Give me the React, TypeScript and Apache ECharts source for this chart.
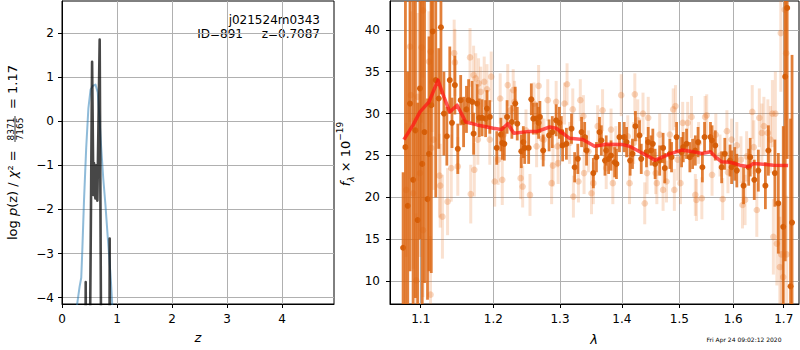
import React, { useEffect, useRef } from "react";
import * as echarts from "echarts";

// ---------- left panel: log p(z) ----------
const zTicks = [0, 1, 2, 3, 4];
const logpTicks = [-4, -3, -2, -1, 0, 1, 2];
const zRange = [0, 4.945];
const logpRange = [-4.145, 2.727];

const pzBlueZ = [0.2, 0.27, 0.32, 0.35, 0.37, 0.40, 0.44, 0.48, 0.52, 0.56, 0.61, 0.65, 0.68, 0.71, 0.75, 0.79, 0.83, 0.86, 0.89, 0.92, 0.97];
const pzBlueV = [-7, -4.2, -3.75, -3.55, -2.9, -1.8, -0.6, 0.3, 0.72, 0.8, 0.83, 0.65, 0.1, -0.55, -1.3, -1.9, -2.6, -3.1, -3.65, -4.3, -6];

const pzDarkZ = [0.42, 0.431, 0.442, 0.49, 0.547, 0.571, 0.582, 0.595, 0.607, 0.62, 0.631, 0.643, 0.685, 0.722, 0.86, 0.867, 0.874];
const pzDarkV = [-8, -3.65, -8, -8, 1.35, -1.67, -0.95, -1.6, -1.75, -1.0, -1.1, -1.8, 1.85, -8, -8, -2.66, -8];

// ---------- right panel: spectrum ----------
const waveTicks = [1.1, 1.2, 1.3, 1.4, 1.5, 1.6, 1.7];
const fluxTicks = [10, 15, 20, 25, 30, 35, 40];
const waveRange = [1.0602, 1.7314];
const fluxRange = [7.29, 43.43];

const modelWave = [1.078, 1.090, 1.099, 1.111, 1.123, 1.131, 1.139, 1.149, 1.161, 1.177, 1.200, 1.212, 1.221, 1.230, 1.250, 1.264, 1.284, 1.294, 1.315, 1.336, 1.355, 1.374, 1.401, 1.413, 1.436, 1.457, 1.471, 1.483, 1.504, 1.525, 1.541, 1.557, 1.566, 1.578, 1.594, 1.613, 1.630, 1.639, 1.659, 1.679, 1.709];
const modelFlux = [26.9, 28.65, 30.2, 31.4, 34.0, 32.0, 30.2, 31.0, 29.0, 28.65, 28.25, 28.1, 28.8, 27.65, 27.85, 27.85, 28.4, 28.25, 27.05, 26.9, 26.1, 26.35, 26.3, 26.1, 25.25, 24.45, 24.85, 25.2, 25.65, 25.45, 25.25, 25.45, 24.85, 24.25, 24.2, 23.85, 23.65, 24.05, 23.95, 23.85, 23.8];

// [wavelength, flux, error]
const darkPoints: [number, number, number][] = [
  [1.077, 14.0, 9], [1.080, 26.0, 22], [1.083, 19.0, 16], [1.086, 31.2, 20], [1.090, 22.1, 24],
  [1.093, 28.0, 20], [1.096, 17.3, 14], [1.099, 33.0, 18], [1.102, 24.0, 22], [1.105, 27.8, 18],
  [1.109, 19.8, 12], [1.111, 25.2, 14], [1.114, 31.0, 20], [1.116, 39.8, 9], [1.120, 34.0, 14],
  [1.124, 31.8, 6], [1.127, 40.3, 8], [1.131, 30.0, 5], [1.135, 27.3, 3.5], [1.139, 34.0, 4],
  [1.142, 28.9, 3], [1.146, 33.4, 3.5], [1.150, 25.8, 3], [1.154, 31.6, 3], [1.158, 29.0, 3],
  [1.162, 30.5, 2.8], [1.165, 31.6, 2.5], [1.170, 31.4, 2.5], [1.172, 27.6, 2.5], [1.177, 31.2, 2.3],
  [1.180, 29.5, 2.3], [1.184, 29.5, 2.2], [1.189, 29.4, 2.2], [1.191, 30.6, 2.2], [1.195, 29.6, 2.0],
  [1.205, 25.9, 2.0], [1.211, 27.5, 2.0], [1.213, 26.5, 2.0], [1.216, 26.4, 2.0], [1.220, 29.6, 2.0],
  [1.227, 29.0, 2.0], [1.232, 31.2, 2.0], [1.235, 28.8, 2.0], [1.241, 25.5, 2.0], [1.244, 26.6, 1.9],
  [1.246, 25.9, 1.9], [1.252, 25.9, 1.9], [1.256, 31.7, 1.9], [1.259, 29.4, 1.9], [1.264, 29.4, 1.9],
  [1.267, 28.9, 1.9], [1.269, 29.6, 1.9], [1.274, 25.6, 1.9], [1.283, 27.4, 1.9], [1.288, 27.8, 1.9],
  [1.294, 29.2, 1.9], [1.299, 28.9, 1.9], [1.302, 27.8, 1.9], [1.304, 26.2, 1.9], [1.310, 26.4, 1.9],
  [1.318, 28.2, 1.8], [1.323, 23.6, 1.8], [1.328, 24.6, 1.8], [1.334, 27.8, 1.8], [1.339, 27.2, 1.8],
  [1.342, 25.6, 1.8], [1.353, 22.9, 1.8], [1.358, 24.8, 1.8], [1.363, 27.8, 1.8], [1.366, 26.8, 1.8],
  [1.372, 24.4, 1.8], [1.374, 25.6, 1.8], [1.378, 24.6, 1.8], [1.382, 25.0, 1.8], [1.388, 24.2, 1.8],
  [1.391, 24.0, 1.8], [1.396, 27.2, 1.8], [1.404, 27.2, 1.8], [1.408, 26.6, 1.8], [1.414, 24.4, 1.8],
  [1.418, 25.2, 1.8], [1.423, 28.5, 1.8], [1.430, 27.4, 1.8], [1.433, 24.6, 1.8], [1.442, 25.4, 1.8],
  [1.445, 26.6, 1.8], [1.450, 25.6, 1.8], [1.453, 26.4, 1.8], [1.457, 24.0, 1.8], [1.465, 24.4, 1.8],
  [1.471, 25.9, 1.8], [1.474, 23.5, 1.8], [1.483, 25.2, 1.8], [1.486, 24.8, 1.8], [1.495, 27.2, 1.8],
  [1.504, 25.4, 1.8], [1.507, 26.0, 1.8], [1.513, 26.4, 1.8], [1.519, 24.8, 1.8], [1.524, 25.2, 1.8],
  [1.529, 25.6, 1.8], [1.534, 26.6, 1.8], [1.542, 23.6, 1.8], [1.546, 27.2, 1.8], [1.557, 27.2, 1.8],
  [1.560, 26.8, 1.8], [1.566, 26.2, 1.8], [1.578, 23.6, 1.9], [1.584, 25.2, 1.9], [1.594, 24.4, 1.9],
  [1.597, 23.6, 2.0], [1.603, 24.0, 2.0], [1.607, 23.2, 2.0], [1.620, 21.4, 2.2], [1.630, 23.6, 2.2],
  [1.633, 24.8, 2.3], [1.641, 22.1, 2.4], [1.649, 23.2, 2.5], [1.663, 21.4, 2.8], [1.669, 25.6, 3.0],
  [1.682, 22.9, 4.0], [1.689, 19.3, 6], [1.699, 16.5, 12], [1.703, 34.4, 22], [1.707, 42.6, 18],
  [1.714, 9.4, 20], [1.717, 17.0, 20],
];

const lightPoints: [number, number, number][] = [
  [1.081, 20.9, 8], [1.086, 38.0, 9], [1.087, 32.2, 10], [1.090, 20.5, 9], [1.094, 10.1, 8],
  [1.096, 32.0, 10], [1.099, 22.9, 10], [1.101, 37.9, 9], [1.103, 42.3, 8], [1.103, 16.1, 8],
  [1.111, 36.2, 6], [1.113, 37.4, 6], [1.113, 8.4, 7], [1.114, 25.9, 6], [1.115, 33.8, 6],
  [1.117, 26.9, 6], [1.125, 22.6, 5], [1.126, 21.4, 5], [1.129, 17.7, 5], [1.136, 19.5, 4],
  [1.141, 23.5, 4], [1.145, 37.2, 4], [1.146, 36.1, 4], [1.150, 23.7, 3.5], [1.167, 36.7, 3.5],
  [1.168, 20.4, 3.5], [1.172, 34.6, 3.5], [1.173, 23.3, 3.2], [1.175, 34.2, 3], [1.179, 33.6, 3],
  [1.178, 26.9, 3], [1.182, 32.6, 3], [1.187, 33.8, 3], [1.191, 32.9, 3], [1.195, 26.9, 3],
  [1.197, 34.4, 3], [1.202, 21.9, 3], [1.207, 24.5, 3], [1.210, 31.8, 3], [1.213, 22.1, 3],
  [1.215, 27.5, 2.5], [1.221, 33.4, 2.5], [1.225, 30.4, 2.5], [1.229, 32.8, 2.5], [1.231, 31.4, 2.5],
  [1.240, 22.3, 2.5], [1.243, 21.3, 2.5], [1.248, 28.0, 2.5], [1.254, 20.3, 2.5], [1.260, 31.2, 2.5],
  [1.264, 26.1, 2.5], [1.267, 33.3, 2.5], [1.272, 27.0, 2.5], [1.275, 26.9, 2.5], [1.281, 31.6, 2.5],
  [1.287, 21.7, 2.5], [1.289, 23.8, 2.5], [1.294, 31.4, 2.5], [1.296, 26.1, 2.5], [1.297, 24.1, 2.5],
  [1.307, 31.2, 2.5], [1.311, 33.5, 2.5], [1.315, 26.5, 2.5], [1.320, 30.5, 2.5], [1.321, 20.1, 2.5],
  [1.329, 21.9, 2.5], [1.332, 31.6, 2.5], [1.337, 29.7, 2.5], [1.338, 22.9, 2.5], [1.345, 25.5, 2.5],
  [1.350, 20.5, 2.5], [1.353, 21.7, 2.5], [1.360, 28.5, 2.5], [1.368, 30.4, 2.5], [1.374, 23.5, 2.5],
  [1.382, 28.1, 2.5], [1.385, 21.7, 2.5], [1.390, 26.0, 2.5], [1.399, 32.2, 2.5], [1.410, 27.3, 2.5],
  [1.413, 21.7, 2.5], [1.420, 26.5, 2.5], [1.422, 32.3, 2.5], [1.427, 29.2, 2.5], [1.436, 30.0, 2.5],
  [1.439, 19.3, 2.5], [1.443, 22.9, 2.5], [1.445, 29.5, 2.5], [1.458, 22.9, 2.5], [1.460, 21.7, 2.5],
  [1.465, 27.5, 2.5], [1.471, 20.9, 2.5], [1.477, 21.9, 2.5], [1.483, 27.5, 2.5], [1.489, 30.5, 2.5],
  [1.491, 20.9, 2.5], [1.493, 30.9, 2.5], [1.497, 24.5, 2.5], [1.502, 21.7, 2.5], [1.506, 28.9, 2.5],
  [1.515, 28.9, 2.5], [1.522, 29.6, 2.5], [1.529, 20.3, 2.5], [1.531, 19.7, 2.5], [1.535, 26.5, 2.5],
  [1.541, 19.9, 2.5], [1.547, 29.6, 2.5], [1.550, 29.8, 2.5], [1.560, 22.7, 2.5], [1.567, 27.5, 2.5],
  [1.575, 25.0, 2.5], [1.580, 19.8, 2.5], [1.588, 27.9, 2.5], [1.590, 23.0, 2.5], [1.597, 26.9, 2.5],
  [1.607, 26.2, 2.8], [1.615, 24.5, 2.8], [1.618, 19.1, 2.8], [1.623, 19.7, 3], [1.626, 24.9, 3],
  [1.637, 30.2, 3.2], [1.640, 26.0, 3.2], [1.646, 18.5, 3.2], [1.651, 29.5, 3.5], [1.656, 27.7, 3.5],
  [1.660, 28.5, 3.5], [1.668, 27.7, 4], [1.673, 26.9, 4], [1.677, 30.0, 4], [1.679, 15.3, 4.5],
  [1.683, 30.0, 5], [1.686, 14.5, 5], [1.692, 11.7, 6], [1.694, 39.6, 7], [1.695, 13.2, 6],
  [1.699, 10.5, 6], [1.702, 42.4, 8], [1.705, 37.2, 8], [1.706, 13.2, 7],
];

const FONT = "DejaVu Sans";
const minus = (v: number) => (v < 0 ? "\u2212" + Math.abs(v) : String(v));

function errRender(barColor: string, dotColor: string, r: number, w: number) {
  return (params: any, api: any) => {
    const x = api.value(0);
    const y = api.value(1);
    const e = api.value(2);
    const lo = Math.max(y - e, fluxRange[0]);
    const hi = Math.min(y + e, fluxRange[1]);
    const children: any[] = [];
    if (hi > lo) {
      const p0 = api.coord([x, lo]);
      const p1 = api.coord([x, hi]);
      children.push({
        type: "line",
        shape: { x1: p0[0], y1: p0[1], x2: p1[0], y2: p1[1] },
        style: { stroke: barColor, lineWidth: w },
      });
    }
    if (y >= fluxRange[0] && y <= fluxRange[1]) {
      const c = api.coord([x, y]);
      children.push({ type: "circle", shape: { cx: c[0], cy: c[1], r }, style: { fill: dotColor } });
    }
    return { type: "group", children };
  };
}

function axisCommon(custom: number[], fmt: (v: number) => string, margin: number) {
  return {
    axisLine: { show: true, onZero: false, lineStyle: { color: "#000", width: 1 } },
    axisTick: { show: true, length: 4, lineStyle: { color: "#000", width: 1 }, customValues: custom },
    axisLabel: { customValues: custom, formatter: fmt, color: "#000", fontSize: 12, fontFamily: FONT, margin },
    splitLine: { show: true, lineStyle: { color: "#b0b0b0", width: 1 } },
  };
}

export default function App() {
  const ref = useRef<HTMLDivElement>(null);
  useEffect(() => {
    if (!ref.current) return;
    const chart = echarts.init(ref.current, null, { renderer: "svg" });
    const ln = Math.log;
    const option: any = {
      animation: false,
      backgroundColor: "#fff",
      grid: [
        { left: 62, top: 1, width: 272, height: 303, show: true, borderColor: "#000", borderWidth: 1 },
        { left: 390, top: 1, width: 409, height: 303, show: true, borderColor: "#000", borderWidth: 1 },
      ],
      xAxis: [
        { type: "value", gridIndex: 0, min: zRange[0], max: zRange[1], ...axisCommon(zTicks, minus, 9) },
        {
          type: "value", gridIndex: 1, min: ln(waveRange[0]), max: ln(waveRange[1]),
          ...axisCommon(waveTicks.map(ln), (v: number) => Math.exp(v).toFixed(1), 9),
        },
      ],
      yAxis: [
        { type: "value", gridIndex: 0, min: logpRange[0], max: logpRange[1], ...axisCommon(logpTicks, minus, 8) },
        { type: "value", gridIndex: 1, min: fluxRange[0], max: fluxRange[1], ...axisCommon(fluxTicks, minus, 10) },
      ],
      series: [
        {
          type: "line", xAxisIndex: 0, yAxisIndex: 0, symbol: "none",
          data: pzBlueZ.map((z, i) => [z, pzBlueV[i]]),
          lineStyle: { color: "rgba(31,119,180,0.5)", width: 2, join: "round" },
        },
        {
          type: "line", xAxisIndex: 0, yAxisIndex: 0, symbol: "none",
          data: pzDarkZ.map((z, i) => [z, pzDarkV[i]]),
          lineStyle: { color: "rgba(0,0,0,0.72)", width: 2.6, join: "round" },
        },
        {
          type: "custom", xAxisIndex: 1, yAxisIndex: 1,
          dimensions: ["x", "y", "e"], encode: { x: 0, y: 1 },
          data: lightPoints.map((p) => [ln(p[0]), p[1], p[2]]),
          renderItem: errRender("rgba(232,118,43,0.22)", "rgba(232,118,43,0.3)", 3.3, 3),
        },
        {
          type: "custom", xAxisIndex: 1, yAxisIndex: 1,
          dimensions: ["x", "y", "e"], encode: { x: 0, y: 1 },
          data: darkPoints.map((p) => [ln(p[0]), p[1], p[2]]),
          renderItem: errRender("rgba(220,100,15,0.82)", "rgba(212,92,5,0.95)", 3, 2.8),
        },
        {
          type: "line", xAxisIndex: 1, yAxisIndex: 1, symbol: "none",
          data: modelWave.map((w, i) => [ln(w), modelFlux[i]]),
          lineStyle: { color: "rgba(255,20,20,0.72)", width: 3.5, join: "round" },
        },
      ],
      graphic: [
        {
          type: "group", x: 12, y: 240, rotation: Math.PI / 2,
          children: [
            {
              type: "text", x: 0, y: 0,
              style: {
                text: "{n|log }{i|p}{n|(z) / }{i|χ}{n|² =}",
                align: "left", verticalAlign: "middle",
                rich: {
                  n: { fontFamily: FONT, fontSize: 13, fill: "#000" },
                  i: { fontFamily: FONT, fontSize: 13, fontStyle: "italic", fill: "#000" },
                },
              },
            },
            { type: "text", x: 111, y: -1, style: { text: "8371", font: `9px '${FONT}'`, fill: "#000", align: "center", verticalAlign: "middle" } },
            { type: "line", shape: { x1: 98, y1: 3, x2: 124, y2: 3 }, style: { stroke: "#000", lineWidth: 0.8 } },
            { type: "text", x: 111, y: 8, style: { text: "7165", font: `9px '${FONT}'`, fill: "#000", align: "center", verticalAlign: "middle" } },
            { type: "text", x: 131, y: 0, style: { text: "= 1.17", font: `13px '${FONT}'`, fill: "#000", align: "left", verticalAlign: "middle" } },
          ],
        },
        {
          type: "text", x: 345, y: 154, rotation: Math.PI / 2,
          style: {
            text: "{i|f}{sub|λ}{n| × 10}{sup|−19}",
            align: "center", verticalAlign: "middle",
            rich: {
              n: { fontFamily: FONT, fontSize: 13, fill: "#000", lineHeight: 20, verticalAlign: "middle" },
              i: { fontFamily: FONT, fontSize: 13, fontStyle: "italic", fill: "#000", lineHeight: 20, verticalAlign: "middle" },
              sub: { fontFamily: FONT, fontSize: 9, fontStyle: "italic", fill: "#000", lineHeight: 20, verticalAlign: "bottom" },
              sup: { fontFamily: FONT, fontSize: 9, fill: "#000", lineHeight: 20, verticalAlign: "top" },
            },
          },
        },
        { type: "text", x: 198, y: 337, style: { text: "z", font: `italic 13px '${FONT}'`, fill: "#000", align: "center", verticalAlign: "middle" } },
        { type: "text", x: 594, y: 339, style: { text: "λ", font: `italic 13px '${FONT}'`, fill: "#000", align: "center", verticalAlign: "middle" } },
        { type: "text", x: 320, y: 20, style: { text: "j021524m0343", font: `12px '${FONT}'`, fill: "#000", align: "right", verticalAlign: "middle" } },
        { type: "text", x: 243, y: 34, style: { text: "ID=891", font: `12px '${FONT}'`, fill: "#000", align: "right", verticalAlign: "middle" } },
        { type: "text", x: 320, y: 34, style: { text: "z=0.7087", font: `12px '${FONT}'`, fill: "#000", align: "right", verticalAlign: "middle" } },
        { type: "text", x: 744, y: 339, style: { text: "Fri Apr 24 09:02:12 2020", font: `6px '${FONT}'`, fill: "#000", align: "center", verticalAlign: "middle" } },
      ],
    };
    chart.setOption(option);
    return () => chart.dispose();
  }, []);
  return (
    <div
      ref={ref}
      style={{ position: "fixed", left: 0, top: 0, width: 800, height: 350, background: "#fff" }}
    />
  );
}
